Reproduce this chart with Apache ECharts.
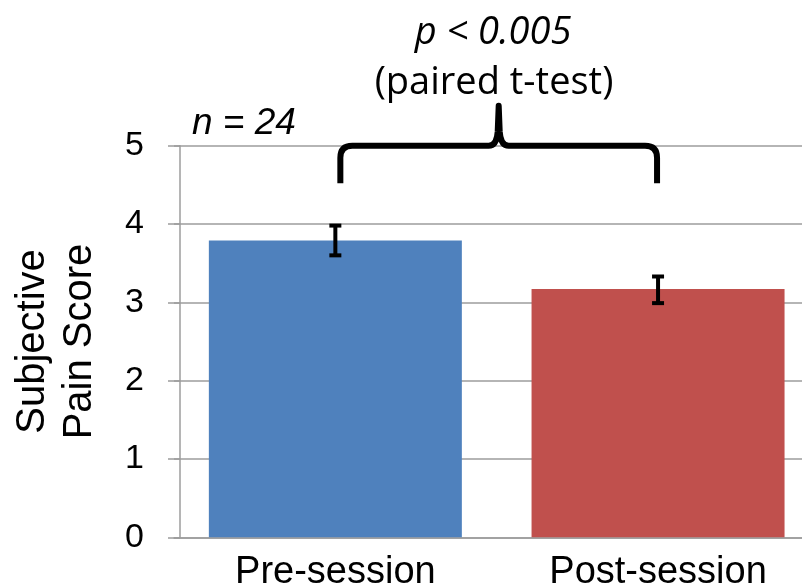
<!DOCTYPE html>
<html>
<head>
<meta charset="utf-8">
<script src="https://cdn.jsdelivr.net/npm/echarts@6/dist/echarts.min.js"></script>
<style>
html,body{margin:0;padding:0;background:#fff;}
#chart{width:802px;height:588px;}
</style>
</head>
<body>
<div id="chart"></div>
<script>
// ---- data ----
const categories = ['Pre-session', 'Post-session'];
const meanScores = [3.79, 3.17];
const errorLow = [3.60, 2.99];
const errorHigh = [3.98, 3.33];
const barColors = ['#4F81BD', '#C0504D'];
// brace annotation spanning the two categories (value-axis levels)
const braceCats = [0, 1];
const braceLevels = { base: 4.52, top: 5.0, peak: 5.51 };
const sampleLabel = 'n = 24';
const pLabel = 'p < 0.005';
const testLabel = '(paired t-test)';
const yTitle = 'Subjective\nPain Score';

const axisGray = '#9c9c9c';
const chart = echarts.init(document.getElementById('chart'), null, { renderer: 'canvas' });

const option = {
  animation: false,
  backgroundColor: '#ffffff',
  grid: { left: 174, width: 645.4, top: 145.7, height: 391.6, containLabel: false, outerBoundsMode: 'none' },
  xAxis: {
    type: 'category',
    data: categories,
    axisLine: { show: true, lineStyle: { color: axisGray, width: 1.5 } },
    axisTick: { show: false },
    axisLabel: { fontSize: 38, color: '#000', fontFamily: '"Liberation Sans", Arial, sans-serif', margin: 16 },
    splitLine: { show: false }
  },
  yAxis: {
    type: 'value',
    min: 0, max: 5, interval: 1,
    offset: -6,
    name: yTitle,
    nameLocation: 'middle',
    nameRotate: 90,
    nameGap: 77,
    nameTextStyle: { fontSize: 40, lineHeight: 47, color: '#000', fontFamily: '"Liberation Sans", Arial, sans-serif' },
    axisLine: { show: true, lineStyle: { color: axisGray, width: 1.5 } },
    axisTick: { show: true, length: 12, lineStyle: { color: axisGray, width: 1.5 } },
    axisLabel: { fontSize: 34, color: '#000', fontFamily: '"Liberation Sans", Arial, sans-serif', margin: 36 },
    splitLine: { show: true, lineStyle: { color: axisGray, width: 1.5 } }
  },
  series: [
    {
      type: 'bar',
      barWidth: 253,
      silent: true,
      data: meanScores.map((v, i) => ({ value: v, itemStyle: { color: barColors[i] } }))
    },
    {
      type: 'custom',
      silent: true,
      clip: false,
      z: 5,
      data: categories.map((c, i) => [i, errorLow[i], errorHigh[i]]),
      renderItem: function (params, api) {
        const x = api.value(0);
        const hi = api.coord([x, api.value(2)]);
        const lo = api.coord([x, api.value(1)]);
        const cap = 6;
        const st = { stroke: '#000', lineWidth: 4 };
        return {
          type: 'group',
          children: [
            { type: 'line', shape: { x1: hi[0], y1: hi[1], x2: lo[0], y2: lo[1] }, style: st },
            { type: 'line', shape: { x1: hi[0] - cap, y1: hi[1], x2: hi[0] + cap, y2: hi[1] }, style: st },
            { type: 'line', shape: { x1: lo[0] - cap, y1: lo[1], x2: lo[0] + cap, y2: lo[1] }, style: st }
          ]
        };
      }
    },
    {
      type: 'custom',
      silent: true,
      clip: false,
      z: 6,
      data: [[braceCats[0], braceCats[1], braceLevels.base, braceLevels.top, braceLevels.peak]],
      renderItem: function (params, api) {
        const l = api.coord([api.value(0), api.value(3)]);
        const r = api.coord([api.value(1), api.value(3)]);
        const yb = api.coord([api.value(0), api.value(2)])[1];
        const yp = api.coord([api.value(0), api.value(4)])[1];
        const xl = l[0] + 5, xr = r[0] - 1, yt = l[1];
        const xm = (xl + xr) / 2;
        const rad = 12;
        const d = [
          'M', xl, yb,
          'L', xl, yt + rad,
          'Q', xl, yt, xl + rad, yt,
          'L', xm - 10, yt,
          'Q', xm - 2, yt, xm - 1, yt - 14,
          'L', xm, yp,
          'L', xm + 1, yt - 14,
          'Q', xm + 2, yt, xm + 10, yt,
          'L', xr - rad, yt,
          'Q', xr, yt, xr, yt + rad,
          'L', xr, yb
        ].join(' ');
        return {
          type: 'path',
          shape: { pathData: d },
          style: { stroke: '#000', lineWidth: 6, fill: null, lineJoin: 'round' }
        };
      }
    }
  ],
  graphic: [
    { type: 'text', x: 192, y: 124, silent: true,
      style: { text: sampleLabel, font: 'italic 37px "Liberation Sans", Arial, sans-serif', fill: '#000', textVerticalAlign: 'middle', textAlign: 'left' } },
    { type: 'text', x: 493, y: 33, silent: true,
      style: { text: pLabel, font: 'italic 38px "Open Sans", sans-serif', fill: '#000', textVerticalAlign: 'middle', textAlign: 'center' } },
    { type: 'text', x: 494, y: 83, silent: true,
      style: { text: testLabel, font: '38px "Open Sans", sans-serif', fill: '#000', textVerticalAlign: 'middle', textAlign: 'center' } }
  ]
};
chart.setOption(option);
</script>
</body>
</html>
